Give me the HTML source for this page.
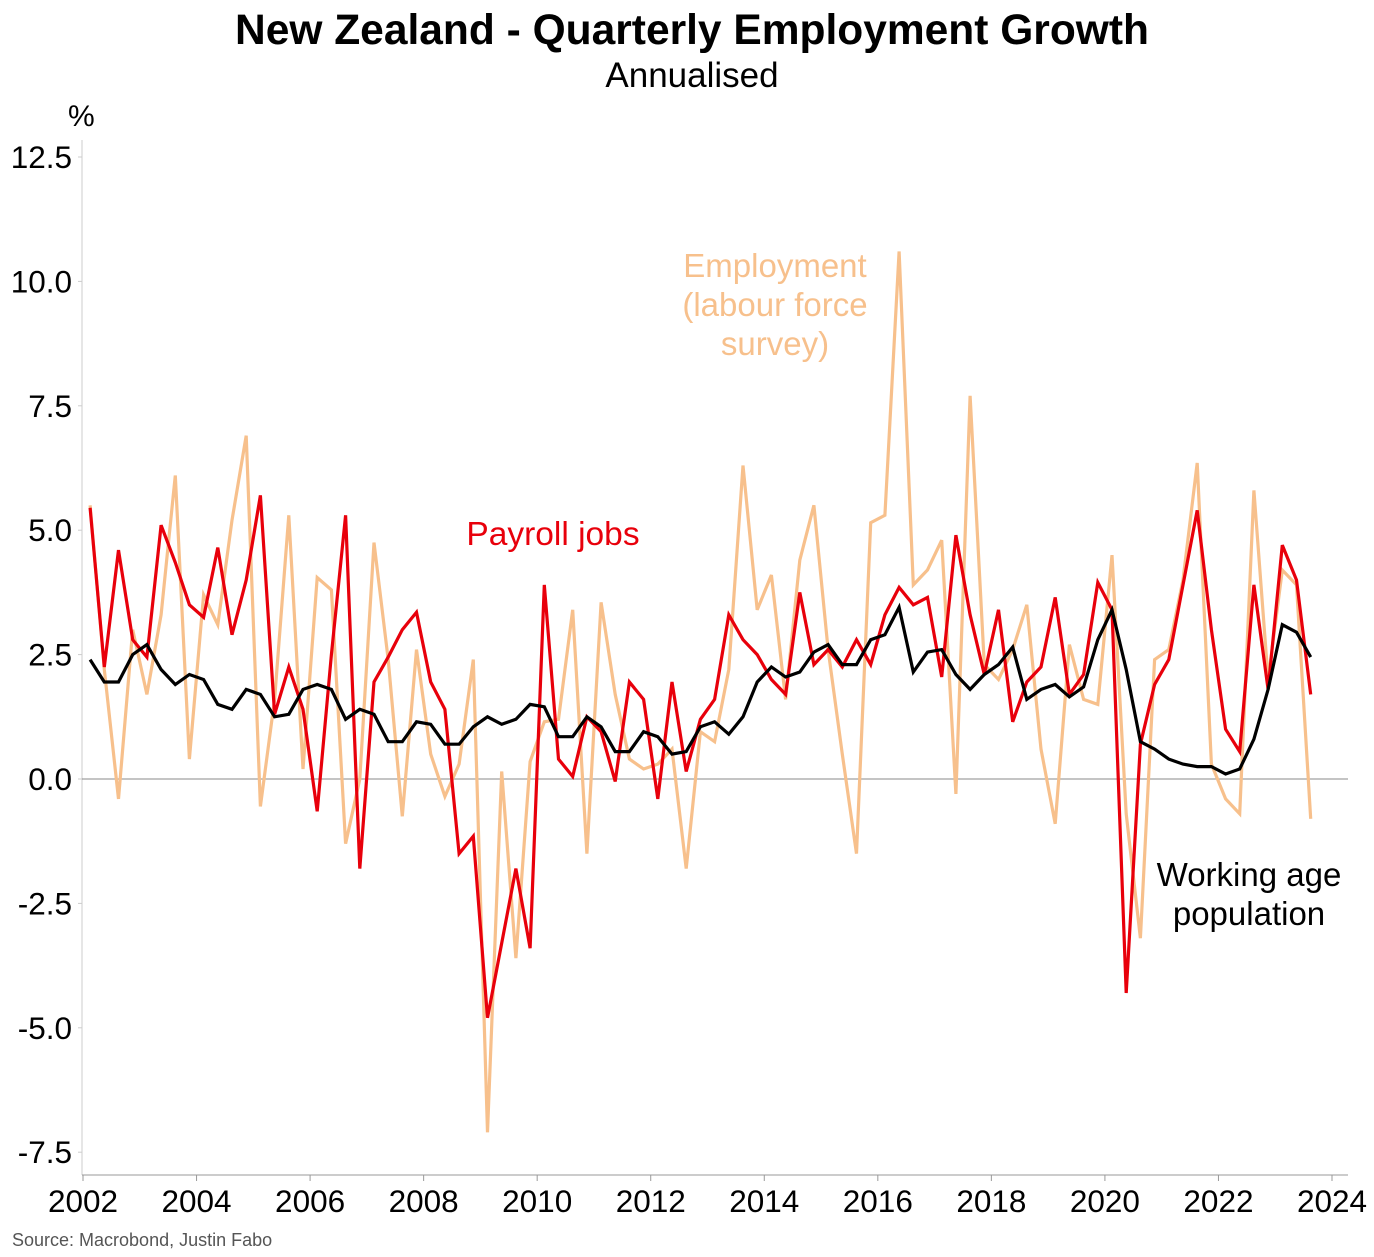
<!DOCTYPE html>
<html><head><meta charset="utf-8"><style>
body{margin:0;background:#fff;font-family:"Liberation Sans",Arial,sans-serif}
svg text{font-family:"Liberation Sans",Arial,sans-serif}
</style></head><body>
<svg id="chart" width="1374" height="1252" xmlns="http://www.w3.org/2000/svg">
<text x="692" y="44" text-anchor="middle" font-size="42.5" font-weight="bold">New Zealand - Quarterly Employment Growth</text>
<text x="692" y="87" text-anchor="middle" font-size="35">Annualised</text>
<text x="68" y="126" font-size="30">%</text>
<text x="12" y="1246" font-size="18" fill="#555">Source: Macrobond, Justin Fabo</text>
<g id="axes"></g>
<g id="series"></g>
<text x="775" y="277" text-anchor="middle" font-size="33" fill="#f7c08c">Employment</text>
<text x="775" y="316" text-anchor="middle" font-size="33" fill="#f7c08c">(labour force</text>
<text x="775" y="355" text-anchor="middle" font-size="33" fill="#f7c08c">survey)</text>
<text x="553" y="545" text-anchor="middle" font-size="33.5" fill="#e8000b">Payroll jobs</text>
<text x="1249" y="886" text-anchor="middle" font-size="33" >Working age</text>
<text x="1249" y="925" text-anchor="middle" font-size="33">population</text>
</svg>
<script>
const startYear = 2002.125;
const payroll = [5.45,2.25,4.6,2.8,2.45,5.1,4.35,3.5,3.25,4.65,2.9,4.0,5.7,1.3,2.25,1.4,-0.65,2.5,5.3,-1.8,1.95,2.45,3.0,3.35,1.95,1.4,-1.5,-1.15,-4.8,-3.3,-1.8,-3.4,3.9,0.4,0.05,1.25,0.95,-0.05,1.95,1.6,-0.4,1.95,0.15,1.2,1.6,3.3,2.8,2.5,2.0,1.7,3.75,2.3,2.6,2.25,2.8,2.3,3.3,3.85,3.5,3.65,2.05,4.9,3.3,2.1,3.4,1.15,1.95,2.25,3.65,1.7,2.1,3.95,3.4,-4.3,0.7,1.9,2.4,3.9,5.4,3.0,1.0,0.55,3.9,1.8,4.7,4.0,1.7];
const workingAge = [2.4,1.95,1.95,2.5,2.7,2.2,1.9,2.1,2.0,1.5,1.4,1.8,1.7,1.25,1.3,1.8,1.9,1.8,1.2,1.4,1.3,0.75,0.75,1.15,1.1,0.7,0.7,1.05,1.25,1.1,1.2,1.5,1.45,0.85,0.85,1.25,1.05,0.55,0.55,0.95,0.85,0.5,0.55,1.05,1.15,0.9,1.25,1.95,2.25,2.05,2.15,2.55,2.7,2.3,2.3,2.8,2.9,3.45,2.15,2.55,2.6,2.1,1.8,2.1,2.3,2.65,1.6,1.8,1.9,1.65,1.85,2.8,3.4,2.2,0.75,0.6,0.4,0.3,0.25,0.25,0.1,0.2,0.8,1.8,3.1,2.95,2.45];
const employment = [5.5,2.2,-0.4,3.0,1.7,3.3,6.1,0.4,3.7,3.1,5.2,6.9,-0.55,1.6,5.3,0.2,4.05,3.8,-1.3,0.0,4.75,2.4,-0.75,2.6,0.5,-0.35,0.3,2.4,-7.1,0.15,-3.6,0.35,1.15,1.2,3.4,-1.5,3.55,1.7,0.4,0.2,0.3,0.6,-1.8,0.95,0.75,2.2,6.3,3.4,4.1,1.6,4.4,5.5,2.6,0.5,-1.5,5.15,5.3,10.6,3.9,4.2,4.8,-0.3,7.7,2.3,2.0,2.6,3.5,0.6,-0.9,2.7,1.6,1.5,4.5,-0.7,-3.2,2.4,2.6,4.0,6.35,0.3,-0.4,-0.7,5.8,2.0,4.2,3.9,-0.8];
const yTicks = [12.5,10.0,7.5,5.0,2.5,0.0,-2.5,-5.0,-7.5];
const xTicks = [2002,2004,2006,2008,2010,2012,2014,2016,2018,2020,2022,2024];

const NS='http://www.w3.org/2000/svg';
const X0=83, X1=1332, Y2002=2002, YR=22;
const xs = t => X0 + (t-Y2002)/YR*(X1-X0);
const ys = v => 779 - v*(779-157)/12.5;
const axes=document.getElementById('axes'), ser=document.getElementById('series');
function mk(tag,attrs,parent){const e=document.createElementNS(NS,tag);for(const k in attrs)e.setAttribute(k,attrs[k]);parent.appendChild(e);return e;}

let l=mk('line',{x1:82,y1:140,x2:82,y2:1175,stroke:'#ccc','stroke-width':1},axes);


l=mk('line',{x1:82,y1:1175,x2:1348,y2:1175,stroke:'#999','stroke-width':1},axes);


l=mk('line',{x1:82,y1:ys(0),x2:1348,y2:ys(0),stroke:'#888','stroke-width':1},axes);


yTicks.forEach(v=>{
  const t=mk('text',{x:72,y:ys(v)+11,'text-anchor':'end','font-size':31.5},axes);
  t.textContent=v.toFixed(1);
  
  
  const k=mk('line',{x1:78,y1:ys(v),x2:82,y2:ys(v),stroke:'#ccc'},axes);
  
  
});
xTicks.forEach(y=>{
  const t=mk('text',{x:xs(y),y:1212,'text-anchor':'middle','font-size':31.5},axes);
  t.textContent=y;
  
  
  const k=mk('line',{x1:xs(y),y1:1175,x2:xs(y),y2:1181,stroke:'#999'},axes);
  
  
});
function drawLine(arr,color,name){
  const pts=arr.map((v,i)=>xs(startYear+i*0.25).toFixed(1)+','+ys(v).toFixed(1)).join(' ');
  const p=mk('polyline',{points:pts,fill:'none',stroke:color,'stroke-width':3.2,'stroke-linejoin':'miter'},ser);
  
  
}
drawLine(employment,'#f7c08c','employment-line');
drawLine(payroll,'#e8000b','payroll-jobs-line');
drawLine(workingAge,'#000000','working-age-population-line');
</script>
</body></html>
